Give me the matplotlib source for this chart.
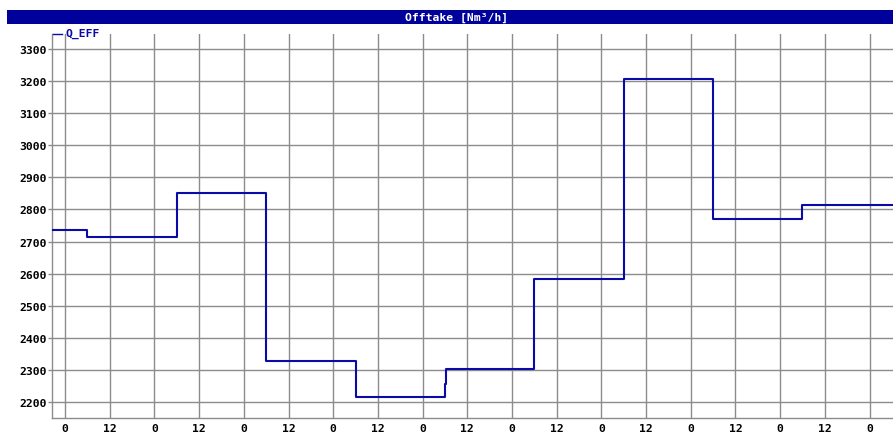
import matplotlib
matplotlib.use("Agg")
import matplotlib.pyplot as plt
from matplotlib.patches import Rectangle
from matplotlib.lines import Line2D

# Effective offtake Q_EFF, piecewise constant (hours, Nm3/h)
step_hours = [-3.5, 6, 30, 54, 78, 102, 102.4, 126, 150, 174, 198, 222.5]
q_eff = [2735, 2715, 2852, 2328, 2217, 2255, 2302, 2584, 3208, 2770, 2814, 2814]

x_ticks = list(range(0, 217, 12))
x_tick_labels = ["0" if h % 24 == 0 else "12" for h in x_ticks]
y_ticks = list(range(2200, 3301, 100))

title = "Offtake [Nm³/h]"
series_name = "Q_EFF"

W, H = 893, 435
FS = 8.2
fig = plt.figure(figsize=(W / 100, H / 100), dpi=100)
fig.patch.set_facecolor("white")

# Title bar
fig.patches.append(Rectangle((7 / W, 1 - 25 / H), 1 - 7 / W, 14 / H,
                             transform=fig.transFigure, facecolor="#00009a",
                             edgecolor="none", zorder=0))
fig.text(457 / W, 1 - 18 / H, title, color="white", ha="center",
         va="center", fontsize=FS, fontweight="bold", family="DejaVu Sans Mono")

ax = fig.add_axes([52 / W, 1 - 418.7 / H, 1 - 52 / W, (418.7 - 35) / H])
ax.plot(step_hours, q_eff, drawstyle="steps-post", color="#0a0aa8", lw=1.5,
        zorder=3)

ax.set_xlim(-3.5, 222.3)
ax.set_ylim(2151, 3347)
ax.set_xticks(x_ticks)
ax.set_xticklabels(x_tick_labels)
ax.set_yticks(y_ticks)
ax.set_yticklabels([str(v) for v in y_ticks])

ax.grid(True, color="#8c8c8c", lw=1.0)
ax.set_axisbelow(True)
for side in ("top", "right"):
    ax.spines[side].set_visible(False)
for side in ("left", "bottom"):
    ax.spines[side].set_color("#8c8c8c")
    ax.spines[side].set_linewidth(1.0)

ax.tick_params(axis="y", length=3, width=1, color="#8c8c8c", pad=1,
               labelsize=FS)
ax.tick_params(axis="x", length=0, pad=4, labelsize=FS)
for lbl in ax.get_xticklabels() + ax.get_yticklabels():
    lbl.set_family("DejaVu Sans Mono")
    lbl.set_fontweight("bold")

# Series key in the top-left corner
fig.add_artist(Line2D([53 / W, 62 / W], [1 - 35 / H, 1 - 35 / H],
                      transform=fig.transFigure, color="#0a0aa8", lw=1.0))
fig.text(65 / W, 1 - 34 / H, series_name, color="#0a0aa8", ha="left",
         va="center", fontsize=FS, fontweight="bold",
         family="DejaVu Sans Mono")

fig.savefig("out.png", dpi=100)
